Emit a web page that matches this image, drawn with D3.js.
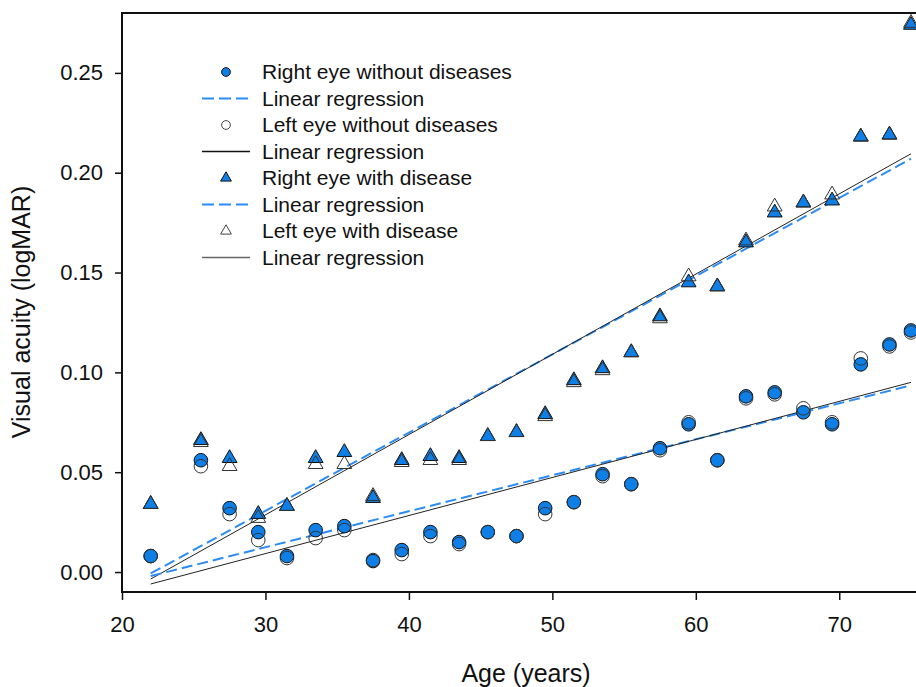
<!DOCTYPE html>
<html>
<head>
<meta charset="utf-8">
<script src="https://cdn.jsdelivr.net/npm/d3@7"></script>
<style>
  body { margin: 0; background: #fff; }
  text { font-family: "Liberation Sans", Arial, sans-serif; }
</style>
</head>
<body>
<svg class="container"></svg>
<script>
// ages of each group
const ages = [22, 25.5, 27.5, 29.5, 31.5, 33.5, 35.5, 37.5, 39.5, 41.5, 43.5, 45.5, 47.5, 49.5,
  51.5, 53.5, 55.5, 57.5, 59.5, 61.5, 63.5, 65.5, 67.5, 69.5, 71.5, 73.5, 75];

const rightNoDisease = [0.008, 0.056, 0.032, 0.020, 0.008, 0.021, 0.023, 0.0055, 0.011, 0.020, 0.015, 0.020, 0.018, 0.032,
  0.035, 0.049, 0.044, 0.062, 0.074, 0.056, 0.088, 0.090, 0.080, 0.074, 0.104, 0.114, 0.121];
const leftNoDisease = [0.008, 0.053, 0.029, 0.016, 0.007, 0.017, 0.021, 0.006, 0.009, 0.018, 0.014, 0.020, 0.018, 0.029,
  0.035, 0.048, 0.044, 0.061, 0.075, 0.056, 0.087, 0.089, 0.082, 0.075, 0.107, 0.113, 0.120];
const rightDisease = [0.034, 0.066, 0.057, 0.029, 0.033, 0.057, 0.060, 0.037, 0.056, 0.058, 0.057, 0.068, 0.070, 0.079,
  0.096, 0.102, 0.110, 0.128, 0.145, 0.143, 0.165, 0.180, 0.185, 0.186, 0.218, 0.219, 0.274];
const leftDisease = [0.034, 0.065, 0.053, 0.027, 0.033, 0.054, 0.054, 0.038, 0.055, 0.056, 0.056, 0.068, 0.070, 0.078,
  0.095, 0.101, 0.110, 0.127, 0.148, 0.143, 0.166, 0.183, 0.185, 0.189, 0.218, 0.219, 0.275];

// regression lines, start and end
const regAges = [22, 75];
const regRightNoDisease = [-0.002, 0.0935];
const regLeftNoDisease = [-0.006, 0.095];
const regRightDisease = [-0.0007, 0.207];
const regLeftDisease = [-0.0035, 0.2095];

const xTicks = [20, 30, 40, 50, 60, 70];
const yTicks = [0, 0.05, 0.10, 0.15, 0.20, 0.25];

const legendLabels = ["Right eye without diseases", "Linear regression", "Left eye without diseases",
  "Linear regression", "Right eye with disease", "Linear regression", "Left eye with disease", "Linear regression"];

const width = 916;
const height = 687;
const blue = "#0f7fe8";
const dashBlue = "#2b8cf5";

const svg = d3.select(".container").attr("width", width).attr("height", height);

const xScale = d3.scaleLinear().domain([20, 75.35]).range([122, 916]);
const yScale = d3.scaleLinear().domain([-0.01, 0.28]).range([592, 13]);

// axes
const xAxis = d3.axisBottom(xScale).tickValues(xTicks).tickSize(8).tickPadding(16).tickFormat(d3.format("d"));
const yAxis = d3.axisLeft(yScale).tickValues(yTicks).tickSize(7).tickPadding(12).tickFormat(d3.format(".2f"));

const gx = svg.append("g").attr("transform", "translate(0, 592)").call(xAxis);
const gy = svg.append("g").attr("transform", "translate(122, 0)").call(yAxis);
[gx, gy].forEach((g) => {
  g.select(".domain").remove();
  g.selectAll("line").attr("stroke", "#111").attr("stroke-width", 1.5);
  g.selectAll("text").attr("font-size", 22).attr("fill", "#111")
    .attr("font-family", "'Liberation Sans', Arial, sans-serif");
});

// frame: left, bottom, top
svg.append("path")
  .attr("d", `M916,13 H122 V592 H916`)
  .attr("fill", "none").attr("stroke", "#111").attr("stroke-width", 2);

// regression lines
const regs = [
  { v: regRightDisease, dash: true },
  { v: regLeftDisease, dash: false },
  { v: regRightNoDisease, dash: true },
  { v: regLeftNoDisease, dash: false },
];
const line = d3.line().x((d) => xScale(d[0])).y((d) => yScale(d[1]));
regs.forEach((r) => {
  svg.append("path")
    .attr("d", line(regAges.map((a, i) => [a, r.v[i]])))
    .attr("fill", "none")
    .attr("stroke", r.dash ? dashBlue : "#222")
    .attr("stroke-width", r.dash ? 2 : 1)
    .attr("stroke-dasharray", r.dash ? "11,5" : null);
});

const tri = d3.symbol().type(d3.symbolTriangle).size(95);
const circ = d3.symbol().type(d3.symbolCircle).size(145);

function drawPoints(vals, symbol, fill, stroke) {
  svg.append("g")
    .selectAll("path")
    .data(vals)
    .enter()
    .append("path")
    .attr("d", symbol)
    .attr("transform", (d, i) => `translate(${xScale(ages[i])}, ${yScale(d)})`)
    .attr("fill", fill)
    .attr("stroke", stroke)
    .attr("stroke-width", 1);
}

drawPoints(rightDisease, tri, blue, "#111");
drawPoints(leftDisease, tri, "none", "#333");
drawPoints(rightNoDisease, circ, blue, "#111");
drawPoints(leftNoDisease, circ, "none", "#333");

// legend
const legend = svg.append("g");
const rowY = d3.range(8).map((i) => 72 + i * 26.5);
legendLabels.forEach((lab, i) => {
  const y = rowY[i];
  legend.append("text").attr("x", 262).attr("y", y).attr("dy", "0.35em")
    .attr("font-size", 21).attr("fill", "#111").text(lab);
  const sym = i === 0 || i === 2 ? d3.symbol().type(d3.symbolCircle).size(60)
    : d3.symbol().type(d3.symbolTriangle).size(50);
  if (i % 2 === 0) {
    legend.append("path").attr("d", sym)
      .attr("transform", `translate(226, ${y})`)
      .attr("fill", i === 0 || i === 4 ? blue : "#fff")
      .attr("stroke", i === 0 || i === 4 ? "#111" : "#444")
      .attr("stroke-width", 1);
  } else {
    const dashed = i === 1 || i === 5;
    legend.append("line").attr("x1", 202).attr("x2", 250).attr("y1", y).attr("y2", y)
      .attr("stroke", dashed ? dashBlue : i === 7 ? "#666" : "#111")
      .attr("stroke-width", dashed ? 2 : 1.3)
      .attr("stroke-dasharray", dashed ? "12,5" : null);
  }
});

// axis titles
svg.append("text")
  .attr("x", 526).attr("y", 682)
  .attr("text-anchor", "middle").attr("font-size", 25).attr("fill", "#111")
  .text("Age (years)");
svg.append("text")
  .attr("transform", "translate(30, 312) rotate(-90)")
  .attr("text-anchor", "middle").attr("font-size", 25).attr("fill", "#111")
  .text("Visual acuity (logMAR)");
</script>
</body>
</html>
